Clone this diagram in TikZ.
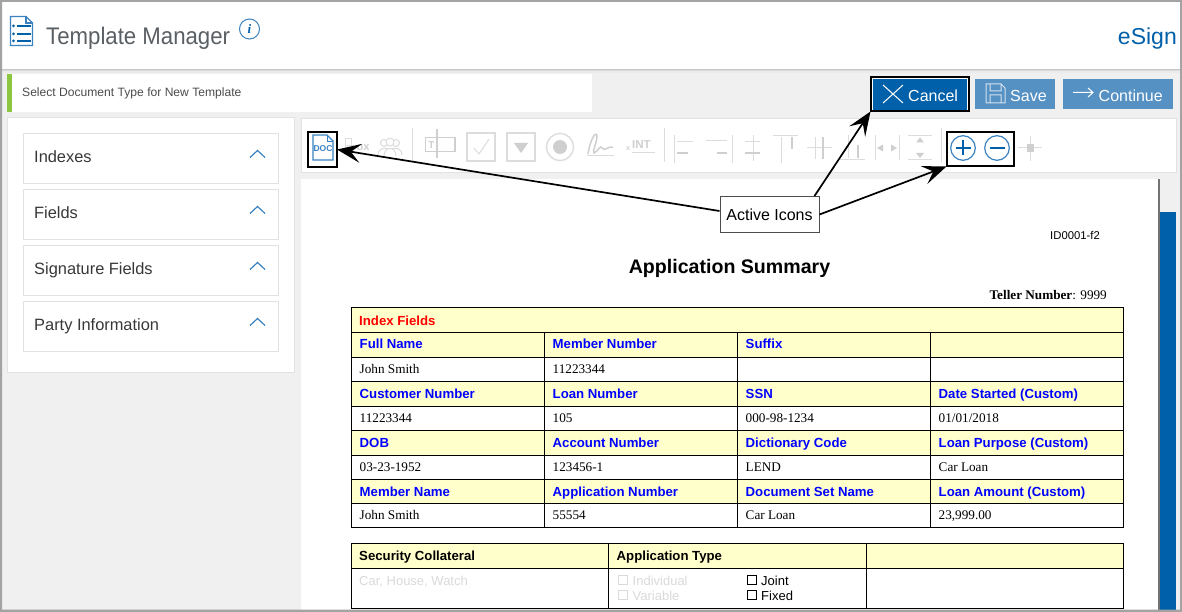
\documentclass[tikz,border=0pt]{standalone}
\usepackage{fontspec}
\setmainfont{Liberation Sans}
\newfontfamily\robo{Liberation Sans}
\newfontfamily\robon[FakeStretch=0.925]{Liberation Sans}
\newfontfamily\tnr{Liberation Serif}
\usetikzlibrary{arrows.meta}
\definecolor{bg}{HTML}{F0F0F0}
\definecolor{edge}{HTML}{E2E2E2}
\definecolor{frameg}{HTML}{A3A3A3}
\definecolor{bluea}{HTML}{0060A9}
\definecolor{blueb}{HTML}{5691C4}
\definecolor{icon}{HTML}{3A82C0}
\definecolor{off}{HTML}{DCDCDC}
\definecolor{offd}{HTML}{CFCFCF}
\definecolor{hdr}{HTML}{FFFFCC}
\definecolor{lnk}{HTML}{0000FF}
\definecolor{txtg}{HTML}{5A5F64}
\definecolor{faint}{HTML}{DADADA}
\definecolor{greenbar}{HTML}{8DC63F}
\tikzset{
 x=1pt,y=-1pt,
 lbl/.style={inner sep=0pt,anchor=base west},
 acc/.style={lbl,font=\fontsize{16.4}{16}\selectfont\robo,text=black!78},
 th/.style={lbl,font=\fontsize{13.2}{13}\selectfont\bfseries,text=lnk},
 thk/.style={lbl,font=\fontsize{13.2}{13}\selectfont\bfseries,text=black},
 td/.style={lbl,font=\fontsize{13.2}{13}\selectfont\tnr,text=black},
 btn/.style={lbl,font=\fontsize{16}{16}\selectfont\robo,text=white},
 panel/.style={draw=edge,fill=white,line width=1pt},
 offl/.style={draw=off,line width=1pt},
 offm/.style={draw=offd,line width=1.5pt},
 ico/.style={draw=icon,line width=1.2pt},
 hilite/.style={draw=black,line width=2pt,inner sep=0pt,outer sep=0pt},
 callout/.style={draw=black!70,fill=white,line width=1pt,minimum width=99pt,minimum height=36pt,inner sep=0pt,font=\fontsize{16}{16}\selectfont,text=black},
 arr/.style={draw=black,line width=1.7pt,-{Stealth[length=24pt,width=19pt,inset=10pt]}},
}
\begin{document}
\begin{tikzpicture}
\useasboundingbox (0,0) rectangle (1182,612);
\fill[bg] (0,0) rectangle (1182,612);
% header
\fill[white] (0,0) rectangle (1182,69);
\fill[black!22] (0,69) rectangle (1182,70);
\fill[black!14] (0,70) rectangle (1182,71);
\fill[black!8] (0,71) rectangle (1182,73);
\begin{scope}[draw=icon,line width=1.2pt]
\draw (10.5,16.5) -- (26,16.5) -- (32.5,23) -- (32.5,45.5) -- (10.5,45.5) -- cycle;
\draw (26,16.5) -- (26,23) -- (32.5,23);
\draw[line width=1.3pt,bluea] (17,26) -- (31,26) (17,34) -- (31,34) (17,41) -- (31,41);
\end{scope}
\fill[bluea] (13.5,26) circle (1.5) (13.5,34) circle (1.5) (13.5,41) circle (1.5);
\node[lbl,font=\fontsize{24}{24}\selectfont\robon,text=txtg] (title) at (46,45) {Template Manager};
\node[circle,draw=icon,line width=1pt,minimum size=20pt,inner sep=0pt,font=\fontsize{13}{13}\selectfont\bfseries\itshape\tnr,text=bluea] (info) at (249.5,29) {i};
\node[lbl,anchor=base east,font=\fontsize{23}{23}\selectfont\robo,text=bluea] (esign) at (1177,45) {eSign};
% message
\fill[white] (7,74) rectangle (592,112);
\fill[greenbar] (7,74) rectangle (12,112);
\node[lbl,font=\fontsize{12.1}{12}\selectfont\robo,text=black!70] (msg) at (22,97) {Select Document Type for New Template};
% left panel
\draw[panel] (7.5,117.5) rectangle (294.5,372.5);
\foreach \n/\t/\a in {a/Indexes/133.5,b/Fields/189.5,c/Signature Fields/245.5,d/Party Information/301.5}{
 \draw[panel] (23.5,\a) rectangle (278.5,\a+50);
 \node[acc] (acc\n) at (34,\a+29) {\t};
 \draw[draw=icon,line width=1.2pt] (250,\a+24) -- (257.5,\a+17) -- (265,\a+24);
}
% toolbar
\draw[panel] (301,118.5) rectangle (1176.5,172.5);
\draw[ico,fill=white] (313,135) -- (327,135) -- (333,141) -- (333,160) -- (313,160) -- cycle;
\draw[ico,line width=.8pt] (327,135) -- (327,141) -- (333,141);
\node[font=\fontsize{8.5}{9}\selectfont\bfseries,text=icon,inner sep=0pt] (docl) at (323,148.5) {DOC};
\draw[offl] (345,139) rectangle (351,146) (345,146) rectangle (353,153);
\node[font=\fontsize{11}{11}\selectfont\bfseries,text=offd,inner sep=0pt] (boxl) at (363,148) {ox};
\draw[offl] (378,155) .. controls (378,146) and (392,146) .. (392,155);
\draw[offl] (388,155) .. controls (388,146) and (402,146) .. (402,155);
\draw[offl,fill=white] (384,156) .. controls (384,146) and (396,146) .. (396,156);
\draw[offl] (384,143) circle (3.5) (396,143) circle (3.5);
\draw[offl,fill=white] (390,142) circle (4);
\fill[off] (411.5,128) rectangle (412.5,162);
\draw[offm] (425.5,137.5) rectangle (455,151.5);
\draw[offm] (437,129) -- (437,158);
\node[font=\fontsize{10}{10}\selectfont\bfseries,text=offd,inner sep=0pt] (tl) at (431.5,145) {T};
\draw[offl,line width=1.4pt] (467,133) rectangle (495,161);
\draw[offl] (474,148) -- (479,154) -- (489,139);
\draw[offl,line width=1.4pt] (507,133) rectangle (535,161);
\fill[offd] (514,143) -- (528,143) -- (521,153) -- cycle;
\draw[offl,line width=1.4pt] (560,147) circle (13.5);
\fill[offd] (560,147) circle (7);
\draw[offm] (588,154) .. controls (590,140) and (596,130) .. (597,136) .. controls (597,142) and (592,152) .. (594,153) .. controls (598,152) and (600,144) .. (602,148) .. controls (604,152) and (608,146) .. (613,147);
\draw[offl] (587,155.5) -- (614,155.5);
\node[lbl,font=\fontsize{7}{7}\selectfont\bfseries,text=offd] (xl) at (626,150.5) {x};
\node[lbl,font=\fontsize{11.5}{11}\selectfont\bfseries,text=offd] (intl) at (632,149) {INT};
\draw[offl] (632,152.5) -- (655,152.5);
\fill[off] (664,128) rectangle (665,162);
% alignment icons
\draw[offl] (674,135) -- (674,163) (677,142) -- (693,142);
\draw[offm] (677,153) -- (688,153);
\draw[offl] (732,135) -- (732,163) (706,141) -- (727,141);
\draw[offm] (717,153) -- (727,153);
\draw[offl] (753,135) -- (753,161) (745,142) -- (760,142);
\draw[offm] (745,153) -- (760,153);
\draw[offl] (773,136) -- (798,136) (781,137) -- (781,163);
\draw[offm] (792,137) -- (792,149);
\draw[offl] (807,148) -- (832,148) (815,137) -- (815,159);
\draw[offm] (823,137) -- (823,159);
\draw[offl] (840,159.5) -- (865,159.5) (848,135) -- (848,158);
\draw[offm] (858,145) -- (858,158);
\draw[offl] (875,135) -- (875,160) (899,135) -- (899,160);
\fill[offd] (877,148) -- (883,144.5) -- (883,151.5) -- cycle (897,148) -- (891,144.5) -- (891,151.5) -- cycle;
\draw[offl] (908,136) -- (932,136) (908,159.5) -- (932,159.5);
\fill[offd] (920,137.5) -- (916,142.5) -- (924,142.5) -- cycle (920,158) -- (916,153) -- (924,153) -- cycle;
\fill[off] (941,128) rectangle (942,162);
% zoom icons
\draw[ico] (963,148) circle (12.3);
\draw[draw=bluea,line width=1.5pt] (955.5,148) -- (970.5,148) (963,140.5) -- (963,155.5);
\draw[ico] (997,148) circle (12.3);
\draw[draw=bluea,line width=1.5pt] (989.5,148) -- (1004.5,148);
\draw[offl] (1030,136) -- (1030,161) (1018,148) -- (1042,148);
\fill[offd] (1027,144) rectangle (1034,152);
% document
\fill[white] (301,179) rectangle (1158,612);
\fill[black!55] (1158,179) rectangle (1159.5,612);
\fill[bg] (1159.5,179) rectangle (1176,612);
\fill[bluea] (1160,212) rectangle (1176,612);
\node[lbl,font=\fontsize{11.3}{11}\selectfont,text=black] (docid) at (1050,240) {ID0001-f2};
\node[font=\fontsize{19.6}{19}\selectfont\bfseries,text=black,inner sep=0pt,anchor=base] (doctitle) at (729.5,273) {Application Summary};
\node[lbl,anchor=base east,font=\fontsize{13.2}{13}\selectfont\tnr,text=black] (teller) at (1107,299) {\textbf{Teller Number}: 9999};
% table 1
\fill[hdr] (351,307) rectangle (1124,357);
\fill[hdr] (351,381) rectangle (1124,406);
\fill[hdr] (351,430) rectangle (1124,455);
\fill[hdr] (351,479) rectangle (1124,503);
\draw[black,line width=1pt] (351.5,307.5) rectangle (1123.5,527)
 (351.5,332) -- (1123.5,332) (351.5,357) -- (1123.5,357) (351.5,381) -- (1123.5,381) (351.5,406) -- (1123.5,406)
 (351.5,430) -- (1123.5,430) (351.5,455) -- (1123.5,455) (351.5,479) -- (1123.5,479) (351.5,503) -- (1123.5,503)
 (544.5,332) -- (544.5,527) (737.5,332) -- (737.5,527) (930.5,332) -- (930.5,527);
\node[lbl,font=\fontsize{13.2}{13}\selectfont\bfseries,text=red] (ixf) at (359,325) {Index Fields};
\foreach \n/\t/\a/\b in {
 r1a/Full Name/359.5/348, r1b/Member Number/552.5/348, r1c/Suffix/745.5/348,
 r2a/Customer Number/359.5/398, r2b/Loan Number/552.5/398, r2c/SSN/745.5/398, r2d/Date Started (Custom)/938.5/398,
 r3a/DOB/359.5/447, r3b/Account Number/552.5/447, r3c/Dictionary Code/745.5/447, r3d/Loan Purpose (Custom)/938.5/447,
 r4a/Member Name/359.5/496, r4b/Application Number/552.5/496, r4c/Document Set Name/745.5/496, r4d/Loan Amount (Custom)/938.5/496}
 {\node[th] (\n) at (\a,\b) {\t};}
\foreach \n/\t/\a/\b in {
 v1a/John Smith/359.5/373, v1b/11223344/552.5/373,
 v2a/11223344/359.5/422, v2b/105/552.5/422, v2c/000-98-1234/745.5/422, v2d/{01/01/2018}/938.5/422,
 v3a/03-23-1952/359.5/471, v3b/123456-1/552.5/471, v3c/LEND/745.5/471, v3d/Car Loan/938.5/471,
 v4a/John Smith/359.5/519, v4b/55554/552.5/519, v4c/Car Loan/745.5/519, v4d/{23,999.00}/938.5/519}
 {\node[td] (\n) at (\a,\b) {\t};}
% table 2
\fill[hdr] (351,543) rectangle (1124,568);
\draw[black,line width=1pt] (351.5,543.5) rectangle (1123.5,608) (351.5,568) -- (1123.5,568)
 (608.5,543.5) -- (608.5,608) (866.5,543.5) -- (866.5,608);
\node[thk] (sc) at (359,560) {Security Collateral};
\node[thk] (apt) at (616.5,560) {Application Type};
\node[lbl,font=\fontsize{13}{13}\selectfont,text=faint] (car) at (359,585) {Car, House, Watch};
\draw[faint,line width=.8pt] (618,575.5) rectangle (627,584.5) (618,590.5) rectangle (627,599.5);
\node[lbl,font=\fontsize{13}{13}\selectfont,text=faint] (ind) at (632.5,585) {Individual};
\node[lbl,font=\fontsize{13}{13}\selectfont,text=faint] (var) at (632.5,600) {Variable};
\draw[black,line width=.7pt] (747,575.5) rectangle (756,584.5) (747,590.5) rectangle (756,599.5);
\node[lbl,font=\fontsize{13}{13}\selectfont,text=black] (joi) at (761,585) {Joint};
\node[lbl,font=\fontsize{13}{13}\selectfont,text=black] (fix) at (761,600) {Fixed};
% buttons
\fill[bluea] (873,79) rectangle (967,110);
\draw[white,line width=1pt] (872,78.5) rectangle (967.5,110.5);
\draw[white,line width=1pt] (883,85) -- (903,103) (903,85) -- (883,103);
\node[btn] (cancel) at (908,102) {Cancel};
\fill[blueb] (975,79) rectangle (1055,109);
\draw[white!75!blueb,line width=1pt] (986,84) -- (1001,84) -- (1005,88) -- (1005,103) -- (986,103) -- cycle (990,84) rectangle (1001,91) (990,95) rectangle (1001,103);
\node[btn] (save) at (1010,102) {Save};
\fill[blueb] (1063,79) rectangle (1173,109);
\draw[white,line width=1pt] (1073,92.5) -- (1093,92.5) (1088,88) -- (1093,92.5) -- (1088,97);
\node[btn] (cont) at (1098.5,102) {Continue};
% callouts
\node[hilite,minimum width=29pt,minimum height=35pt] (docbox) at (322.5,149.5) {};
\node[hilite,minimum width=67pt,minimum height=34pt] (zoombox) at (980,149.5) {};
\node[hilite,minimum width=98pt,minimum height=34pt] (cancelbox) at (919.5,94.5) {};
\node[callout] (active) at (769.5,214.5) {Active Icons};
\draw[arr] (active.176) -- (docbox.east);
\draw[arr] (active.north east) ++(-5,0) coordinate (s1) -- (cancelbox.south west);
\draw[arr] (active.east) -- (zoombox.south west);
% frame
\fill[frameg] (0,0) rectangle (1182,2) (0,0) rectangle (2,612) (1180,0) rectangle (1182,612) (0,609.5) rectangle (1182,612);
\end{tikzpicture}
\end{document}
